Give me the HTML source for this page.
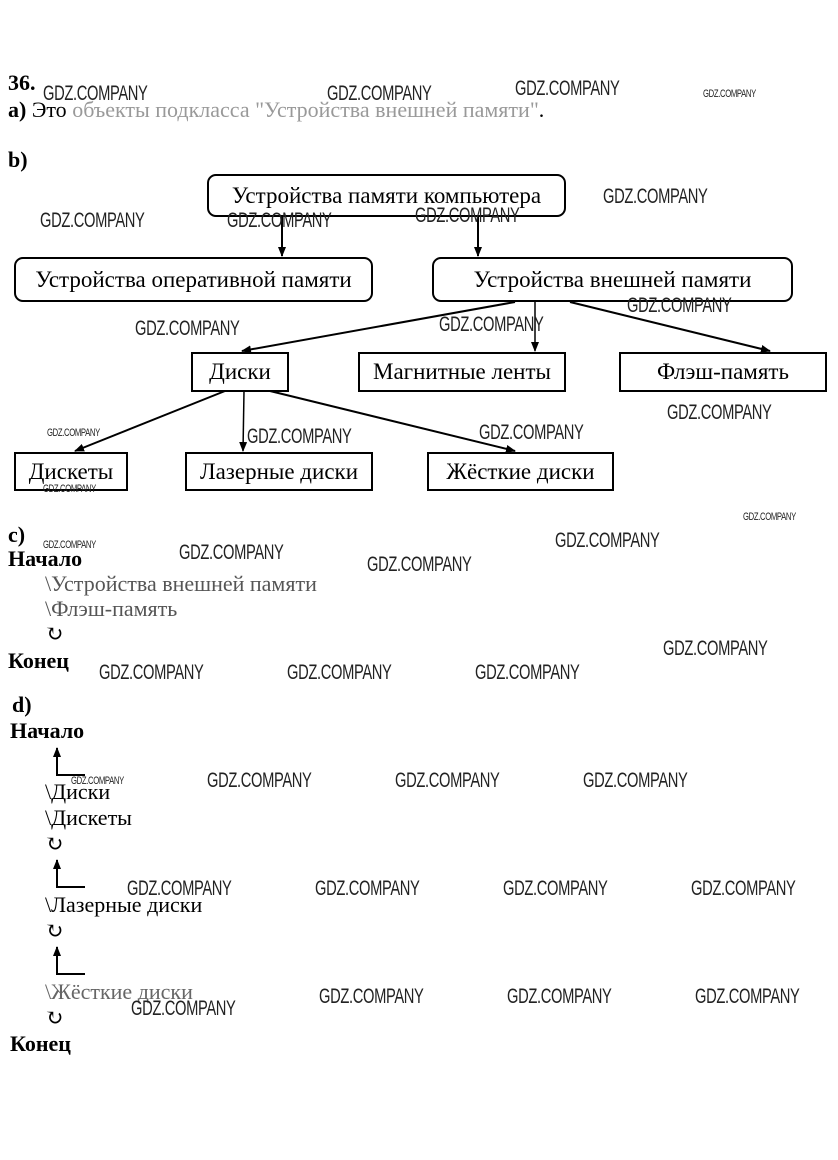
<!DOCTYPE html>
<html><head><meta charset="utf-8"><style>
body{margin:0;background:#fff;}
#p{position:relative;width:838px;height:1160px;overflow:hidden;font-family:"Liberation Serif","DejaVu Serif",serif;color:#000;}
.t{position:absolute;white-space:nowrap;font-size:22px;line-height:22px;}
.b{font-weight:bold;}
.box{position:absolute;border:2px solid #000;box-sizing:border-box;display:flex;align-items:center;justify-content:center;font-size:23px;white-space:nowrap;background:#fff;}
.r{border-radius:9px;}
.w{position:absolute;font-family:"Liberation Sans",sans-serif;font-size:21px;color:#222;transform:scaleX(0.7);transform-origin:left top;white-space:nowrap;line-height:21px;letter-spacing:-0.5px;}
.ws{font-size:11px;line-height:11px;}
svg{position:absolute;left:0;top:0;}
</style></head><body><div id="p">
<svg width="838" height="1160">
<defs><marker id="a" markerWidth="10" markerHeight="8" refX="9" refY="4" orient="auto" markerUnits="userSpaceOnUse"><path d="M0,0L10,4L0,8z" fill="#000"/></marker></defs>
<g stroke="#000" stroke-width="2" fill="none">
<line x1="282" y1="216" x2="282" y2="256" marker-end="url(#a)"/>
<line x1="478" y1="216" x2="478" y2="256" marker-end="url(#a)"/>
<line x1="515" y1="302" x2="242" y2="351" marker-end="url(#a)"/>
<line x1="535" y1="302" x2="535" y2="351" stroke-width="1.5" marker-end="url(#a)"/>
<line x1="570" y1="302" x2="770" y2="351" marker-end="url(#a)"/>
<line x1="225" y1="391" x2="75" y2="451" marker-end="url(#a)"/>
<line x1="244" y1="391" x2="243" y2="451" stroke-width="1.5" marker-end="url(#a)"/>
<line x1="270" y1="391" x2="515" y2="451" marker-end="url(#a)"/>
<polyline points="85,775 57,775 57,748" marker-end="url(#a)"/>
<polyline points="85,887 57,887 57,860" marker-end="url(#a)"/>
<polyline points="85,974 57,974 57,947" marker-end="url(#a)"/>
</g></svg>

<div class="t b" style="left:8px;top:72px;">36.</div>
<div class="t" style="left:8px;top:99px;"><b>a)</b> Это <span style="color:#999">объекты подкласса "Устройства внешней памяти"</span>.</div>
<div class="t b" style="left:8px;top:149px;">b)</div>

<div class="box r" style="left:207px;top:174px;width:359px;height:43px;">Устройства памяти компьютера</div>
<div class="box r" style="left:14px;top:257px;width:359px;height:45px;">Устройства оперативной памяти</div>
<div class="box r" style="left:432px;top:257px;width:361px;height:45px;">Устройства внешней памяти</div>
<div class="box" style="left:191px;top:352px;width:98px;height:40px;">Диски</div>
<div class="box" style="left:358px;top:352px;width:208px;height:40px;">Магнитные ленты</div>
<div class="box" style="left:619px;top:352px;width:208px;height:40px;">Флэш-память</div>
<div class="box" style="left:14px;top:452px;width:114px;height:39px;">Дискеты</div>
<div class="box" style="left:185px;top:452px;width:188px;height:39px;">Лазерные диски</div>
<div class="box" style="left:427px;top:452px;width:187px;height:39px;">Жёсткие диски</div>

<div class="t b" style="left:8px;top:524px;">c)</div>
<div class="t b" style="left:8px;top:548px;">Начало</div>
<div class="t" style="left:45px;top:573px;color:#555">\Устройства внешней памяти</div>
<div class="t" style="left:45px;top:598px;color:#555">\Флэш-память</div>
<div class="t" style="left:45px;top:623px;">↻</div>
<div class="t b" style="left:8px;top:650px;">Конец</div>

<div class="t b" style="left:12px;top:694px;">d)</div>
<div class="t b" style="left:10px;top:720px;">Начало</div>
<div class="t" style="left:45px;top:781px;">\Диски</div>
<div class="t" style="left:45px;top:807px;">\Дискеты</div>
<div class="t" style="left:45px;top:833px;">↻</div>
<div class="t" style="left:45px;top:894px;">\Лазерные диски</div>
<div class="t" style="left:45px;top:920px;">↻</div>
<div class="t" style="left:45px;top:981px;color:#666">\Жёсткие диски</div>
<div class="t" style="left:45px;top:1007px;">↻</div>
<div class="t b" style="left:10px;top:1033px;">Конец</div>

<div class="w" style="left:43px;top:83px;">GDZ.COMPANY</div>
<div class="w" style="left:327px;top:83px;">GDZ.COMPANY</div>
<div class="w" style="left:515px;top:78px;">GDZ.COMPANY</div>
<div class="w ws" style="left:703px;top:89px;">GDZ.COMPANY</div>
<div class="w" style="left:40px;top:210px;">GDZ.COMPANY</div>
<div class="w" style="left:227px;top:210px;">GDZ.COMPANY</div>
<div class="w" style="left:415px;top:205px;">GDZ.COMPANY</div>
<div class="w" style="left:603px;top:186px;">GDZ.COMPANY</div>
<div class="w" style="left:627px;top:295px;">GDZ.COMPANY</div>
<div class="w" style="left:135px;top:318px;">GDZ.COMPANY</div>
<div class="w" style="left:439px;top:314px;">GDZ.COMPANY</div>
<div class="w" style="left:667px;top:402px;">GDZ.COMPANY</div>
<div class="w ws" style="left:47px;top:428px;">GDZ.COMPANY</div>
<div class="w" style="left:247px;top:426px;">GDZ.COMPANY</div>
<div class="w" style="left:479px;top:422px;">GDZ.COMPANY</div>
<div class="w ws" style="left:43px;top:484px;">GDZ.COMPANY</div>
<div class="w ws" style="left:743px;top:512px;">GDZ.COMPANY</div>
<div class="w ws" style="left:43px;top:540px;">GDZ.COMPANY</div>
<div class="w" style="left:179px;top:542px;">GDZ.COMPANY</div>
<div class="w" style="left:367px;top:554px;">GDZ.COMPANY</div>
<div class="w" style="left:555px;top:530px;">GDZ.COMPANY</div>
<div class="w" style="left:663px;top:638px;">GDZ.COMPANY</div>
<div class="w" style="left:99px;top:662px;">GDZ.COMPANY</div>
<div class="w" style="left:287px;top:662px;">GDZ.COMPANY</div>
<div class="w" style="left:475px;top:662px;">GDZ.COMPANY</div>
<div class="w ws" style="left:71px;top:776px;">GDZ.COMPANY</div>
<div class="w" style="left:207px;top:770px;">GDZ.COMPANY</div>
<div class="w" style="left:395px;top:770px;">GDZ.COMPANY</div>
<div class="w" style="left:583px;top:770px;">GDZ.COMPANY</div>
<div class="w" style="left:127px;top:878px;">GDZ.COMPANY</div>
<div class="w" style="left:315px;top:878px;">GDZ.COMPANY</div>
<div class="w" style="left:503px;top:878px;">GDZ.COMPANY</div>
<div class="w" style="left:691px;top:878px;">GDZ.COMPANY</div>
<div class="w" style="left:131px;top:998px;">GDZ.COMPANY</div>
<div class="w" style="left:319px;top:986px;">GDZ.COMPANY</div>
<div class="w" style="left:507px;top:986px;">GDZ.COMPANY</div>
<div class="w" style="left:695px;top:986px;">GDZ.COMPANY</div>
</div></body></html>
